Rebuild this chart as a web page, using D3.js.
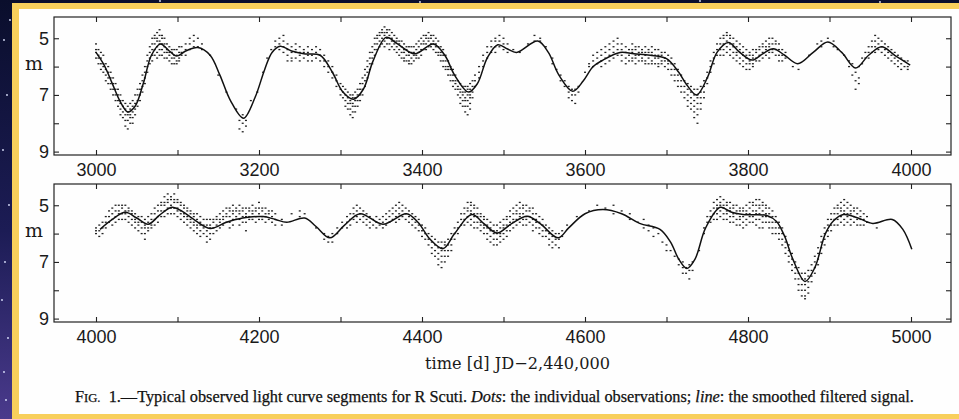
<!DOCTYPE html>
<html>
<head>
<meta charset="utf-8">
<script src="https://cdn.jsdelivr.net/npm/d3@7"></script>
<style>
  html, body { margin: 0; padding: 0; background: #0b1030; overflow: hidden; }
  svg { display: block; }
</style>
</head>
<body>
<svg id="fig" width="959" height="419"></svg>
<script>
// smoothed filtered signal, [time, magnitude]
var curveTop = [
  [3000,5.5],[3010,5.95],[3020,6.6],[3030,7.25],[3039,7.6],[3048,7.4],[3058,6.6],[3068,5.6],
  [3079,5.2],[3090,5.45],[3099,5.63],[3110,5.45],[3125,5.33],[3140,5.6],[3152,6.3],[3165,7.2],
  [3181,7.82],[3195,7.1],[3207,6.1],[3216,5.5],[3226,5.28],[3240,5.45],[3255,5.55],[3275,5.6],
  [3290,6.2],[3303,6.9],[3316,7.15],[3328,6.8],[3340,5.8],[3356,4.97],[3370,5.2],[3391,5.55],
  [3414,5.2],[3428,5.6],[3440,6.3],[3457,6.9],[3468,6.6],[3480,5.7],[3493,5.23],[3505,5.38],
  [3516,5.5],[3542,5.1],[3555,5.5],[3568,6.3],[3585,6.87],[3598,6.5],[3610,6.0],[3622,5.77],
  [3643,5.5],[3660,5.55],[3680,5.6],[3700,5.72],[3715,6.2],[3725,6.65],[3737,7.0],[3750,6.4],
  [3762,5.5],[3776,5.15],[3790,5.5],[3805,5.77],[3818,5.55],[3831,5.37],[3845,5.6],[3861,5.9],
  [3880,5.5],[3898,5.13],[3915,5.5],[3932,6.05],[3948,5.6],[3964,5.3],[3980,5.6],[3999,5.95]
]
var curveBottom = [
  [4005,5.85],[4020,5.5],[4036,5.25],[4050,5.45],[4064,5.67],[4078,5.35],[4093,5.07],[4105,5.2],
  [4120,5.5],[4140,5.82],[4160,5.6],[4180,5.45],[4205,5.4],[4220,5.5],[4234,5.6],[4256,5.45],
  [4270,5.75],[4287,6.15],[4305,5.7],[4324,5.3],[4352,5.67],[4381,5.3],[4395,5.6],[4410,6.2],
  [4426,6.53],[4440,6.0],[4461,5.33],[4476,5.65],[4492,5.98],[4510,5.65],[4529,5.39],[4545,5.65],
  [4567,6.15],[4580,5.8],[4600,5.3],[4622,5.15],[4645,5.3],[4667,5.64],[4692,5.85],[4705,6.3],
  [4715,6.9],[4725,7.23],[4735,6.9],[4748,5.8],[4766,5.07],[4780,5.25],[4794,5.33],[4823,5.36],
  [4835,5.57],[4845,6.1],[4855,6.9],[4870,7.69],[4882,7.2],[4895,6.0],[4905,5.55],[4917,5.33],
  [4935,5.45],[4953,5.64],[4977,5.5],[4990,5.85],[5001,6.55]
]

// individual observations: [time, mag, mag, ...]
var obsTop = [
  [3000,5.2,5.4,5.5,5.7],[3003,5.4,5.6,5.7,5.9],[3006,5.5,5.7,5.9,6.1],[3009,5.6,5.9,6.0,6.2],
  [3012,5.9,6.1,6.3,6.5],[3015,6.0,6.2,6.4,6.6],[3018,6.2,6.4,6.6,6.8],[3021,6.4,6.6,6.8,7.0],
  [3024,6.6,6.8,7.0,7.2],[3027,6.8,7.0,7.2,7.4],[3030,7.0,7.2,7.3,7.5,7.7],[3033,7.2,7.4,7.6,7.8],
  [3036,7.3,7.5,7.7,7.9,8.1],[3039,7.4,7.6,7.7,7.9,8.2],[3042,7.3,7.5,7.7,7.8,8.0],[3045,7.2,7.4,7.6,7.8,8.0],
  [3048,7.0,7.3,7.5,7.7],[3051,6.8,7.0,7.2,7.4],[3054,6.6,6.8,7.0,7.2],[3057,6.3,6.5,6.7,6.9],
  [3060,6.0,6.2,6.4,6.6],[3063,5.6,5.8,6.0,6.2],[3066,5.3,5.5,5.7,5.9],[3069,5.0,5.2,5.4,5.6,5.8],
  [3072,4.9,5.0,5.2,5.4,5.6],[3075,4.8,5.0,5.1,5.3,5.5,5.7],[3078,4.7,4.9,5.1,5.2,5.4,5.6],[3081,4.9,5.0,5.2,5.4,5.6],
  [3084,5.0,5.2,5.3,5.5,5.7],[3087,5.2,5.4,5.5,5.7],[3090,5.3,5.5,5.6,5.8],[3093,5.4,5.5,5.7,5.9],
  [3096,5.4,5.6,5.7,5.9],[3099,5.4,5.6,5.8,5.9],[3102,5.3,5.5,5.7,5.8],[3105,5.3,5.5,5.6],
  [3110,5.2,5.4,5.6],[3115,5.0,5.2,5.4],[3120,4.9,5.1,5.3],[3125,5.0,5.3],[3130,5.2,5.4],
  [3140,5.6],[3150,6.3],[3160,6.9],[3172,7.5],[3176,7.9,8.2],[3180,7.7,8.0,8.3],[3184,7.9,8.1],
  [3190,7.2],[3198,6.9],[3205,6.2],[3210,5.7],[3215,5.4],[3220,5.1,5.3],[3225,5.0,5.2,5.4],
  [3230,4.9,5.1,5.3,5.5],[3235,5.2,5.4,5.6,5.8],[3240,5.3,5.5,5.7,5.8],[3245,5.2,5.4,5.5,5.7],
  [3250,5.3,5.5,5.6,5.8],[3255,5.4,5.5,5.7],[3260,5.3,5.5,5.6,5.8],[3265,5.4,5.6,5.8],
  [3270,5.3,5.5,5.7],[3275,5.4,5.6,5.8],[3280,5.6,5.8,6.0],[3285,5.8,6.0,6.2],[3290,6.0,6.2,6.4],
  [3295,6.3,6.5,6.7],[3300,6.6,6.8,7.0],[3303,6.7,6.9,7.1],[3306,6.8,7.0,7.2,7.4],[3309,6.9,7.1,7.3,7.5],
  [3312,7.0,7.2,7.3,7.5,7.7],[3315,7.0,7.1,7.3,7.4,7.6,7.8],[3318,6.9,7.1,7.2,7.4,7.6],[3321,6.8,7.0,7.2,7.4],
  [3324,6.6,6.8,7.0,7.2],[3327,6.4,6.6,6.8,7.0],[3330,6.1,6.3,6.5,6.7],[3333,5.8,6.0,6.2,6.4],
  [3336,5.5,5.7,5.9,6.1],[3339,5.3,5.5,5.7,5.9],[3342,5.0,5.2,5.4,5.6],[3345,4.9,5.0,5.2,5.4],
  [3348,4.8,4.9,5.1,5.3],[3351,4.7,4.8,5.0,5.2],[3354,4.6,4.8,4.9,5.1,5.3],[3357,4.7,4.8,5.0,5.2],
  [3360,4.7,4.9,5.0,5.2,5.4],[3363,4.8,5.0,5.1,5.3],[3366,4.9,5.1,5.2,5.4],[3369,5.0,5.1,5.3,5.5],
  [3372,5.1,5.2,5.4,5.6],[3375,5.1,5.3,5.5,5.7],[3378,5.2,5.4,5.5,5.7,5.8],[3381,5.3,5.4,5.6,5.8],
  [3384,5.3,5.5,5.6,5.8,5.9],[3387,5.3,5.5,5.7,5.9],[3390,5.3,5.5,5.6,5.8],[3393,5.2,5.4,5.6,5.7],
  [3396,5.1,5.3,5.5,5.7],[3399,5.0,5.2,5.4,5.6],[3402,4.9,5.1,5.2,5.4],[3405,4.9,5.0,5.2,5.4],
  [3408,4.8,5.0,5.1,5.3],[3411,4.9,5.0,5.2,5.3],[3414,4.9,5.1,5.2,5.4],[3417,5.0,5.2,5.3,5.5],
  [3420,5.1,5.3,5.5,5.6],[3423,5.3,5.5,5.6,5.8],[3426,5.4,5.6,5.8,6.0],[3429,5.6,5.8,6.0,6.1],
  [3432,5.8,6.0,6.1,6.3],[3435,6.0,6.1,6.3,6.5],[3438,6.1,6.3,6.5,6.7],[3441,6.3,6.5,6.6,6.8],
  [3444,6.5,6.7,6.8,7.0],[3447,6.6,6.8,6.9,7.1,7.3],[3450,6.7,6.9,7.0,7.2,7.4],[3453,6.7,6.9,7.1,7.2,7.4,7.6],
  [3456,6.7,6.8,7.0,7.2,7.4,7.7],[3459,6.6,6.8,7.0,7.1,7.3,7.5],[3462,6.5,6.7,6.9,7.1],[3465,6.3,6.5,6.7],
  [3470,6.0,6.2,6.4],[3475,5.6,5.8,6.0],[3480,5.3,5.5,5.7],[3485,5.1,5.3,5.5],[3490,5.0,5.1,5.3,5.5],
  [3495,4.9,5.1,5.3],[3500,5.0,5.2,5.4],[3505,5.2,5.5],[3512,5.4],[3520,5.5],[3530,5.2],
  [3538,4.9,5.1],[3545,5.0,5.1],[3552,5.3],[3560,5.7,5.9],[3565,6.1],[3570,6.3,6.5],[3575,6.5,6.7],
  [3580,6.7,6.9,7.1],[3584,6.8,7.0,7.2],[3588,6.8,7.0,7.3],[3592,6.7,6.9],[3600,6.2],[3605,5.9,6.0],
  [3610,5.6,5.8,6.0],[3615,5.5,5.7,5.9],[3620,5.4,5.6,5.8,6.0],[3625,5.3,5.5,5.7,5.9],
  [3630,5.2,5.4,5.6,5.8],[3635,5.1,5.3,5.5,5.7],[3640,5.0,5.2,5.4,5.6],[3645,5.2,5.4,5.6,5.8],
  [3650,5.3,5.5,5.7,5.9],[3654,5.4,5.6,5.8],[3658,5.2,5.4,5.5,5.7,5.8],[3662,5.3,5.4,5.6,5.7,5.9],
  [3666,5.3,5.5,5.6,5.8],[3670,5.4,5.5,5.7,5.8],[3674,5.3,5.5,5.6,5.8,5.9],[3678,5.4,5.5,5.7,5.9],
  [3682,5.3,5.5,5.6,5.8,5.9],[3686,5.4,5.6,5.7,5.9],[3690,5.4,5.6,5.7,5.9,6.0],[3694,5.5,5.6,5.8,5.9],
  [3698,5.5,5.7,5.8,6.0],[3702,5.6,5.8,5.9,6.1],[3706,5.7,5.9,6.1,6.3],[3710,5.9,6.1,6.3,6.5],
  [3714,6.1,6.3,6.5,6.7],[3718,6.3,6.5,6.7,6.9],[3722,6.5,6.7,6.9,7.1],[3726,6.6,6.8,7.0,7.2,7.4],
  [3730,6.7,6.9,7.1,7.3,7.5],[3734,6.8,7.0,7.2,7.4,7.6,7.8],[3738,6.8,7.0,7.1,7.3,7.5,7.7,8.0],[3742,6.7,6.9,7.1,7.3,7.5],
  [3746,6.5,6.7,6.9,7.1],[3750,6.2,6.4,6.6],[3754,5.8,6.0,6.2],[3758,5.5,5.7,5.9],[3762,5.2,5.4,5.6],
  [3766,5.0,5.2,5.4,5.6],[3770,4.9,5.0,5.2,5.4,5.6],[3774,4.8,4.9,5.1,5.3,5.5],[3778,4.9,5.0,5.2,5.4,5.6],
  [3782,5.0,5.2,5.3,5.5,5.7],[3786,5.1,5.3,5.5,5.6,5.8],[3790,5.2,5.4,5.5,5.7,5.9],[3794,5.3,5.5,5.6,5.8,6.0],
  [3798,5.4,5.6,5.7,5.9,6.1],[3802,5.5,5.6,5.8,5.9,6.1],[3806,5.4,5.6,5.7,5.9,6.0],[3810,5.4,5.5,5.7,5.8],
  [3814,5.3,5.4,5.6,5.8],[3818,5.2,5.3,5.5,5.7],[3822,5.1,5.3,5.4,5.6],[3826,5.0,5.2,5.3,5.5,5.7],
  [3830,5.0,5.2,5.4,5.5],[3834,5.1,5.2,5.4,5.6],[3838,5.2,5.4,5.6,5.8],[3842,5.4,5.6,5.8],[3846,5.5,5.7],
  [3855,6.0],[3862,6.1],[3875,5.6],[3885,5.2],[3890,5.1,5.3],[3898,5.0],[3905,5.1,5.3],[3910,5.4],
  [3918,5.6],[3924,5.8,6.0],[3928,5.9,6.3],[3932,6.2,6.5,6.8],[3936,6.0,6.4,6.6],[3940,5.7,5.9],
  [3944,5.5,5.7],[3948,5.3,5.5,5.7],[3952,5.1,5.3,5.5],[3956,4.9,5.1,5.3,5.5],[3960,5.0,5.2,5.4],
  [3964,5.1,5.3,5.5],[3968,5.2,5.4,5.6],[3972,5.3,5.5,5.7],[3976,5.4,5.6,5.8],[3980,5.5,5.7,5.9],
  [3984,5.6,5.8,6.0],[3988,5.7,5.9,6.1],[3992,5.8,6.0],[3996,5.8,6.0,6.1]
]
var obsBottom = [
  [4000,5.8,5.9,6.0],[4004,5.7,5.9,6.1],[4008,5.6,5.8,6.0],[4012,5.4,5.6,5.8],[4016,5.2,5.4,5.6],
  [4020,5.1,5.3,5.5,5.7],[4024,5.0,5.2,5.4,5.6],[4028,5.0,5.2,5.3,5.5],[4032,5.0,5.1,5.3,5.5],
  [4036,5.0,5.2,5.3,5.5],[4040,5.1,5.2,5.4,5.6],[4044,5.2,5.3,5.5,5.7],[4048,5.3,5.5,5.6,5.8],
  [4052,5.4,5.6,5.7,5.9],[4056,5.4,5.6,5.8,6.0],[4060,5.5,5.7,5.8,6.0,6.2],[4064,5.4,5.6,5.8,5.9],
  [4068,5.3,5.5,5.7,5.8],[4072,5.1,5.3,5.5,5.7],[4076,5.0,5.2,5.4,5.6],[4080,4.9,5.0,5.2,5.4],
  [4084,4.7,4.9,5.0,5.2,5.4],[4088,4.6,4.8,4.9,5.1,5.3],[4092,4.7,4.8,5.0,5.1,5.3],[4096,4.6,4.8,4.9,5.1,5.3],
  [4100,4.8,4.9,5.1,5.2,5.4],[4104,4.9,5.0,5.2,5.3,5.5],[4108,5.0,5.1,5.3,5.4,5.6],[4112,5.1,5.2,5.4,5.5,5.7],
  [4116,5.2,5.3,5.5,5.6,5.8],[4120,5.3,5.4,5.6,5.7,5.9],[4124,5.3,5.5,5.7,5.8,6.0],[4128,5.4,5.6,5.7,5.9,6.1],
  [4132,5.5,5.7,5.8,6.0],[4136,5.5,5.7,5.9,6.1,6.3],[4140,5.5,5.7,5.8,6.0,6.2],[4144,5.5,5.6,5.8,6.0],
  [4148,5.4,5.5,5.7,5.9],[4152,5.3,5.5,5.6,5.8],[4156,5.2,5.4,5.5,5.7],[4160,5.1,5.3,5.4,5.6],
  [4164,5.1,5.2,5.4,5.6,5.8],[4168,5.0,5.2,5.3,5.5,5.7],[4172,5.1,5.2,5.4,5.5],[4176,5.0,5.2,5.3,5.5,5.7],
  [4180,5.1,5.2,5.4,5.6],[4184,5.1,5.3,5.4,5.6,5.9],[4188,5.1,5.2,5.4,5.5],[4192,5.0,5.2,5.3,5.5],
  [4196,5.1,5.2,5.4,5.6],[4200,4.9,5.1,5.3,5.5],[4204,5.1,5.2,5.4,5.5],[4208,5.1,5.3,5.4,5.6],
  [4212,5.2,5.3,5.5],[4216,5.2,5.4,5.6],[4220,5.3,5.5,5.7],[4228,5.5,5.7],[4240,5.3],[4250,5.2,5.4],
  [4256,5.3],[4270,5.8],[4280,6.0,6.2],[4285,6.1,6.3],[4290,6.0,6.3],[4296,5.8,6.0],[4302,5.6,5.8],
  [4308,5.4,5.6,5.8],[4312,5.3,5.5,5.7],[4316,5.1,5.3,5.5],[4320,5.0,5.2,5.4,5.6],[4324,5.1,5.3,5.5],
  [4328,5.2,5.4,5.6],[4332,5.3,5.5,5.7],[4336,5.4,5.6,5.8],[4340,5.5,5.7],[4344,5.4,5.6,5.8],
  [4348,5.5,5.7],[4352,5.4,5.6,5.8],[4356,5.3,5.5,5.7],[4360,5.2,5.4,5.6],[4364,5.1,5.3,5.5],
  [4368,5.0,5.2,5.4,5.6],[4372,4.9,5.1,5.3,5.5],[4376,5.0,5.2,5.4],[4380,5.1,5.3,5.5],[4384,5.2,5.4,5.6],
  [4388,5.3,5.5,5.7],[4392,5.4,5.6,5.8],[4396,5.5,5.7,5.9],[4400,5.7,5.9,6.1],[4404,5.8,6.0,6.2],
  [4408,6.0,6.2,6.4],[4412,6.1,6.3,6.5,6.7],[4416,6.2,6.4,6.6,6.8],[4420,6.3,6.5,6.7,6.9,7.1],
  [4424,6.3,6.5,6.6,6.8,7.0,7.2],[4428,6.3,6.4,6.6,6.8,7.0],[4432,6.2,6.4,6.6,6.8],[4436,6.0,6.2,6.4,6.6],
  [4440,5.8,6.0,6.2],[4444,5.6,5.8,6.0],[4448,5.3,5.5,5.7],[4452,5.1,5.3,5.5,5.7],[4456,4.9,5.1,5.2,5.4,5.6],
  [4460,4.9,5.0,5.2,5.3,5.5,5.7],[4464,5.0,5.1,5.3,5.4,5.6,5.8],[4468,5.1,5.3,5.4,5.6,5.8],[4472,5.3,5.4,5.6,5.7,5.9],
  [4476,5.4,5.5,5.7,5.8,6.0],[4480,5.5,5.7,5.8,6.0,6.2],[4484,5.6,5.8,5.9,6.1,6.3],[4488,5.7,5.9,6.0,6.2,6.4],
  [4492,5.7,5.9,6.0,6.2,6.4],[4496,5.6,5.8,6.0,6.1,6.3],[4500,5.5,5.7,5.8,6.0,6.2],[4504,5.4,5.5,5.7,5.9,6.1],
  [4508,5.2,5.4,5.6,5.7,5.9],[4512,5.1,5.3,5.5,5.6,5.8],[4516,5.0,5.2,5.3,5.5,5.7],[4520,4.9,5.1,5.3,5.4,5.6],
  [4524,5.0,5.1,5.3,5.5,5.7],[4528,5.0,5.2,5.4,5.5,5.7],[4532,5.1,5.2,5.4,5.6],[4536,5.1,5.3,5.5,5.7,5.9],
  [4540,5.3,5.5,5.6,5.8],[4544,5.4,5.6,5.8,6.0],[4548,5.5,5.7,5.9,6.1],[4552,5.7,5.9,6.1],
  [4556,5.8,6.0,6.2,6.4],[4560,5.9,6.1,6.3,6.5],[4564,6.0,6.2,6.4],[4568,6.0,6.2,6.5],[4572,5.9,6.1],
  [4578,5.7],[4590,5.4],[4605,5.2],[4615,5.0],[4625,5.1],[4635,5.0,5.3],[4645,5.2],[4655,5.3,5.5],
  [4665,5.6],[4672,5.5,5.8],[4678,5.7,5.9],[4684,5.8,6.1],[4690,6.0],[4695,6.3],[4700,6.4,6.6],
  [4705,6.6],[4710,6.8],[4715,6.9,7.1],[4720,7.0,7.2,7.4],[4724,7.2,7.4],[4728,7.1,7.3,7.6],[4732,7.0,7.3],
  [4740,6.6],[4746,5.8,6.0],[4750,5.4,5.6],[4754,5.2,5.4,5.6],[4758,4.9,5.1,5.3,5.5],[4762,4.8,5.0,5.1,5.3,5.5],
  [4766,4.7,4.9,5.0,5.2,5.4],[4770,4.8,5.0,5.1,5.3,5.5],[4774,4.9,5.0,5.2,5.3,5.5],[4778,4.9,5.1,5.2,5.4,5.6],
  [4782,5.0,5.1,5.3,5.4,5.6],[4786,5.0,5.2,5.3,5.5,5.7],[4790,5.1,5.2,5.4,5.5,5.7],[4794,5.1,5.2,5.4,5.6,5.8],
  [4798,5.0,5.2,5.3,5.5,5.7],[4802,4.9,5.1,5.3,5.4,5.6],[4806,4.9,5.0,5.2,5.4,5.6],[4810,4.8,5.0,5.2,5.3,5.5,5.7],
  [4814,4.8,5.0,5.1,5.3,5.5,5.8],[4818,4.9,5.0,5.2,5.4,5.6,5.8],[4822,5.0,5.1,5.3,5.4,5.6],[4826,5.1,5.3,5.4,5.6,5.8],
  [4830,5.2,5.4,5.6,5.8,6.0],[4834,5.4,5.6,5.8,6.0],[4838,5.6,5.8,6.0,6.2],[4842,5.8,6.0,6.2,6.4],
  [4846,6.1,6.3,6.5,6.7],[4850,6.4,6.6,6.8,7.0],[4854,6.7,6.9,7.1,7.3],[4858,7.0,7.2,7.4,7.6],
  [4862,7.2,7.4,7.6,7.8,8.0],[4866,7.4,7.6,7.8,8.0,8.2],[4870,7.4,7.6,7.8,8.0,8.2,8.3],[4874,7.3,7.5,7.7,7.9,8.1],
  [4878,7.1,7.3,7.5,7.7],[4882,6.8,7.0,7.2,7.4],[4886,6.5,6.7,6.9,7.1],[4890,6.1,6.3,6.5,6.7],
  [4894,5.8,6.0,6.2,6.4],[4898,5.5,5.7,5.9,6.1],[4902,5.3,5.5,5.7,5.9],[4906,5.1,5.3,5.5,5.7],
  [4910,5.0,5.1,5.3,5.5,5.7],[4914,4.9,5.1,5.2,5.4,5.6],[4918,4.8,5.0,5.2,5.3,5.5,5.7],[4922,4.9,5.1,5.3,5.4,5.6],
  [4926,5.0,5.2,5.3,5.5,5.7],[4930,5.1,5.2,5.4,5.6],[4934,5.1,5.3,5.5,5.7],[4938,5.2,5.4,5.5,5.7],
  [4942,5.3,5.5,5.7],[4946,5.4,5.6],[4958,5.8]
]

var panels = [
  {domain: [3000, 4000], curve: curveTop, obs: obsTop, top: 17, bottom: 155},
  {domain: [4000, 5000], curve: curveBottom, obs: obsBottom, top: 184, bottom: 322}
]
var magTicks = [5, 6, 7, 8, 9]
var magLabels = [5, 7, 9]

var stars = [[4,40],[7,95],[3,150],[9,205],[5,262],[2,300],[8,338],[4,372],[6,400],[10,20],[160,1],[420,2],[700,1],[880,2]]

var svg = d3.select('#fig')
var W = 959, H = 419

// night sky behind the card
var defs = svg.append('defs')
var sky = defs.append('linearGradient').attr('id', 'sky').attr('x1', 0).attr('y1', 0).attr('x2', 0).attr('y2', 1)
sky.append('stop').attr('offset', '0%').attr('stop-color', '#0a0e2c')
sky.append('stop').attr('offset', '55%').attr('stop-color', '#1c1c55')
sky.append('stop').attr('offset', '100%').attr('stop-color', '#4a3a8c')
svg.append('rect').attr('width', W).attr('height', H).style('fill', 'url(#sky)')
svg.selectAll('.star').data(stars).enter().append('circle')
  .attr('cx', d => d[0]).attr('cy', d => d[1]).attr('r', 0.9).style('fill', '#dfe4ff')

// yellow card with white paper (no right edge, the scan is cut there)
svg.append('rect').attr('x', 12).attr('y', 3).attr('width', W - 12 + 5).attr('height', H - 3 + 5).style('fill', '#f8cf5c')
svg.append('rect').attr('x', 19).attr('y', 9).attr('width', W - 19 + 5).attr('height', 405).style('fill', '#fefefe')

var left = 54, right = 951
// 3000 sits at x=96, 4000 at x=911
var pxPerDay = 0.815

panels.forEach(function(p) {
  var t0 = p.domain[0]
  var xs = d3.scaleLinear()
    .domain([t0 - (96 - left) / pxPerDay, t0 + (right - 96) / pxPerDay])
    .range([left, right])
  var ys = d3.scaleLinear().domain([4.25, 9.12]).range([p.top, p.bottom])

  var g = svg.append('g')

  var dots = []
  p.obs.forEach(function(row) {
    row.slice(1).forEach(function(m) { dots.push([row[0], m]) })
  })
  g.selectAll('.obs').data(dots).enter().append('rect')
    .attr('class', 'obs')
    .attr('x', d => xs(d[0]) - 1)
    .attr('y', d => ys(d[1]) - 0.65)
    .attr('width', 2).attr('height', 1.3)
    .style('fill', '#222')

  var line = d3.line()
    .x(d => xs(d[0])).y(d => ys(d[1]))
    .curve(d3.curveCatmullRom.alpha(0.5))
  g.append('path').attr('d', line(p.curve))
    .style('fill', 'none').style('stroke', '#111').style('stroke-width', 1.5)

  var xt = d3.range(p.domain[0], p.domain[1] + 1, 100)
  var fontTicks = '"Liberation Sans", Arial, sans-serif'

  var xb = g.append('g').attr('transform', `translate(0,${p.bottom})`)
    .call(d3.axisBottom(xs).tickValues(xt).tickSize(-5).tickPadding(8)
      .tickFormat(d => (d % 200 === 0) ? d : ''))
  var xtop = g.append('g').attr('transform', `translate(0,${p.top})`)
    .call(d3.axisTop(xs).tickValues(xt).tickSize(-5).tickFormat(''))
  var yl = g.append('g').attr('transform', `translate(${left},0)`)
    .call(d3.axisLeft(ys).tickValues(magTicks).tickSize(-5).tickPadding(5)
      .tickFormat(d => magLabels.indexOf(d) >= 0 ? d : ''))
  var yr = g.append('g').attr('transform', `translate(${right},0)`)
    .call(d3.axisRight(ys).tickValues(magTicks).tickSize(-5).tickFormat(''))

  ;[xb, xtop, yl, yr].forEach(function(a) {
    a.select('.domain').remove()
    a.selectAll('line').style('stroke', '#222').style('stroke-width', 1.1)
    a.selectAll('text').style('font-family', fontTicks).style('font-size', '18px').style('fill', '#1a1a1a')
  })

  g.append('rect').attr('x', left).attr('y', p.top)
    .attr('width', right - left).attr('height', p.bottom - p.top)
    .style('fill', 'none').style('stroke', '#222').style('stroke-width', 1.2)

  g.append('text').attr('x', 25).attr('y', ys(6) + 3)
    .style('font-family', '"DejaVu Serif", serif').style('font-size', '19px').style('fill', '#1a1a1a')
    .text('m')
})

svg.append('text').attr('x', 425).attr('y', 369)
  .attr('textLength', 185).attr('lengthAdjust', 'spacingAndGlyphs')
  .style('font-family', '"DejaVu Serif", serif').style('font-size', '17px').style('fill', '#1a1a1a')
  .text('time [d] JD\u22122,440,000')

var cap = svg.append('text').attr('x', 75).attr('y', 402)
  .style('font-family', '"Liberation Serif", "Times New Roman", serif').style('font-size', '16.3px')
  .style('fill', '#111').style('stroke', '#111').style('stroke-width', 0.25)
cap.append('tspan').text('F')
cap.append('tspan').style('font-size', '12.6px').text('IG.')
cap.append('tspan').text('\u00a0 1.\u2014Typical observed light curve segments for R Scuti. ')
cap.append('tspan').style('font-style', 'italic').text('Dots')
cap.append('tspan').text(': the individual observations; ')
cap.append('tspan').style('font-style', 'italic').text('line')
cap.append('tspan').text(': the smoothed filtered signal.')
</script>
</body>
</html>
